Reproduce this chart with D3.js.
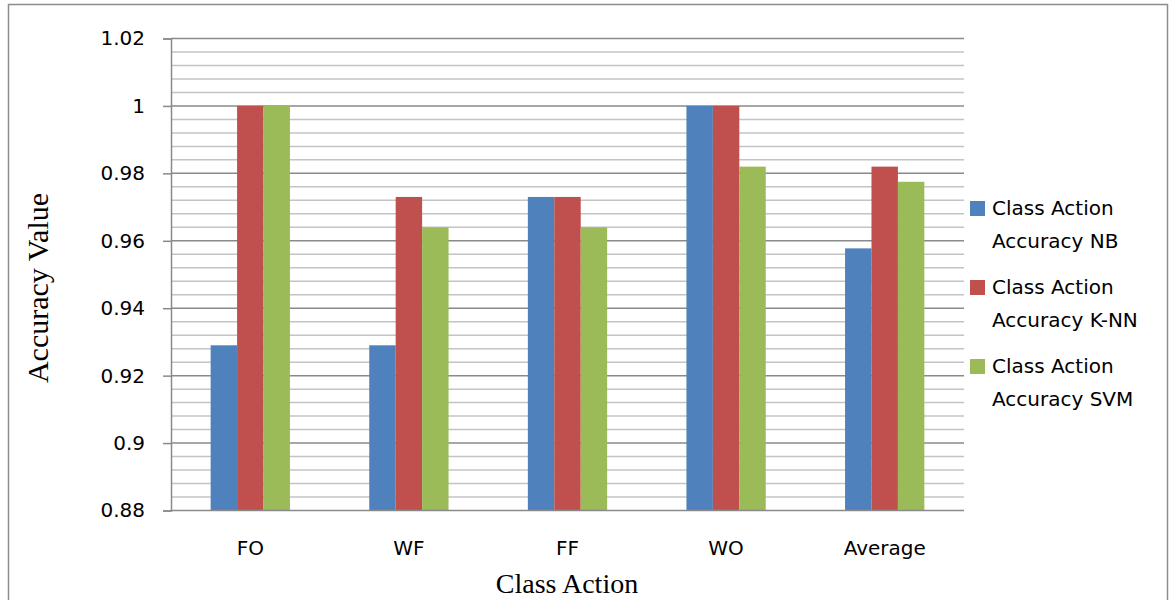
<!DOCTYPE html>
<html>
<head>
<meta charset="utf-8">
<script src="https://cdn.jsdelivr.net/npm/d3@7"></script>
<style>
  html, body { margin: 0; padding: 0; background: #fff; }
  svg { display: block; }
</style>
</head>
<body>
<svg id="chart" width="1169" height="600"></svg>
<script>
// Class action accuracy per classifier
const categories = ["FO", "WF", "FF", "WO", "Average"];
const seriesNames = ["Class Action Accuracy NB", "Class Action Accuracy K-NN", "Class Action Accuracy SVM"];
const legendLines = [["Class Action", "Accuracy NB"], ["Class Action", "Accuracy K-NN"], ["Class Action", "Accuracy SVM"]];
const nbValues  = [0.929, 0.929, 0.973, 1.0, 0.95775];
const knnValues = [1.0, 0.973, 0.973, 1.0, 0.982];
const svmValues = [1.0, 0.964, 0.964, 0.982, 0.9775];
const yTicks = [0.88, 0.9, 0.92, 0.94, 0.96, 0.98, 1, 1.02];
const colors = ["#4F81BD", "#C0504D", "#9BBB59"];

const series = [nbValues, knnValues, svmValues];
const svg = d3.select("#chart");
const sansFont = "'DejaVu Sans', sans-serif";
const serifFont = "'Liberation Serif', 'Times New Roman', serif";

// outer frame
svg.append("rect").attr("x", 8.5).attr("y", 4.5).attr("width", 1159).attr("height", 600)
  .attr("fill", "none").attr("stroke", "#8c8c8c").attr("stroke-width", 1.5);

const plotLeft = 171, plotRight = 964, plotTop = 38.5, plotBottom = 510.5;
const y = d3.scaleLinear().domain([0.88, 1.02]).range([plotBottom, plotTop]);
const x0 = d3.scaleBand().domain(categories).range([plotLeft, plotRight]).paddingInner(0.5).paddingOuter(0.25);
const x1 = d3.scaleBand().domain(d3.range(series.length)).range([0, x0.bandwidth()]);

// minor gridlines every 0.004
const minor = d3.range(0, 36).map(i => 0.88 + i * 0.004).filter(v => !yTicks.some(t => Math.abs(t - v) < 1e-6));
svg.append("g").selectAll("line").data(minor).join("line")
  .attr("x1", plotLeft).attr("x2", plotRight)
  .attr("y1", d => y(d)).attr("y2", d => y(d))
  .attr("stroke", "#c4c4c4").attr("stroke-width", 1.5);

// major gridlines
svg.append("g").selectAll("line").data(yTicks.slice(1)).join("line")
  .attr("x1", plotLeft).attr("x2", plotRight)
  .attr("y1", d => y(d)).attr("y2", d => y(d))
  .attr("stroke", "#8a8a8a").attr("stroke-width", 1.5);

// y axis
const yAxis = d3.axisLeft(y).tickValues(yTicks).tickSize(8).tickPadding(18)
  .tickFormat(d => String(+d.toFixed(2)));
const gy = svg.append("g").attr("transform", `translate(${plotLeft},0)`).call(yAxis);
gy.select(".domain").attr("stroke", "#8a8a8a").attr("stroke-width", 1.5);
gy.selectAll(".tick line").attr("stroke", "#8a8a8a").attr("stroke-width", 1.5);
gy.selectAll(".tick text").attr("font-family", sansFont).attr("font-size", 20).attr("fill", "#000");

// bars
const groups = svg.append("g").selectAll("g").data(categories).join("g")
  .attr("transform", d => `translate(${x0(d)},0)`);
groups.selectAll("rect").data((c, i) => series.map((s, k) => ({ k, v: s[i] }))).join("rect")
  .attr("x", d => x1(d.k))
  .attr("width", x1.bandwidth())
  .attr("y", d => y(d.v))
  .attr("height", d => plotBottom - y(d.v))
  .attr("fill", d => colors[d.k]);

// x axis
const xAxis = d3.axisBottom(x0).tickSize(0).tickPadding(30);
const gx = svg.append("g").attr("transform", `translate(0,${plotBottom})`).call(xAxis);
gx.select(".domain").attr("stroke", "#8a8a8a").attr("stroke-width", 1.5).attr("d", `M${plotLeft},0H${plotRight}`);
gx.selectAll(".tick text").attr("font-family", sansFont).attr("font-size", 20).attr("fill", "#000");

// axis titles
svg.append("text").attr("x", 567).attr("y", 593).attr("text-anchor", "middle")
  .attr("font-family", serifFont).attr("font-size", 28).text("Class Action");
svg.append("text").attr("transform", "translate(48,288) rotate(-90)").attr("text-anchor", "middle")
  .attr("font-family", serifFont).attr("font-size", 30).text("Accuracy Value");

// legend
const legend = svg.append("g").selectAll("g").data(seriesNames).join("g")
  .attr("transform", (d, i) => `translate(970,${201 + i * 79})`);
legend.append("rect").attr("width", 15).attr("height", 15).attr("fill", (d, i) => colors[i]);
legend.each(function (d, i) {
  const t = d3.select(this).append("text")
    .attr("font-family", sansFont).attr("font-size", 20).attr("fill", "#000");
  legendLines[i].forEach((line, j) => {
    t.append("tspan").attr("x", 22).attr("y", 14 + j * 33).text(line);
  });
});
</script>
</body>
</html>
